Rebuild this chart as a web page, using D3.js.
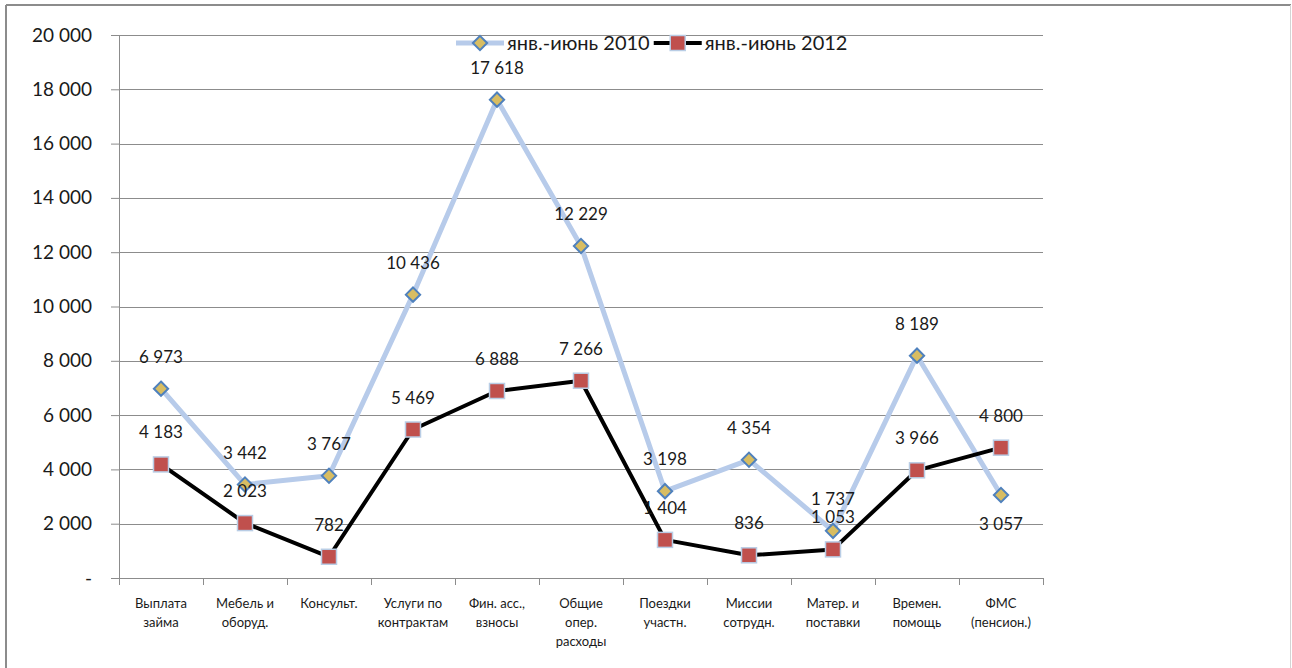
<!DOCTYPE html>
<html>
<head>
<meta charset="utf-8">
<script src="https://cdn.jsdelivr.net/npm/d3@7"></script>
<style>
  body { margin: 0; background: #fff; }
  svg { display: block; font-family: Lato, "Open Sans", sans-serif; }
</style>
</head>
<body>
<div id="chart"></div>
<script>
// Data
var categories = [
  ["Выплата", "займа"],
  ["Мебель и", "оборуд."],
  ["Консульт."],
  ["Услуги по", "контрактам"],
  ["Фин. асс.,", "взносы"],
  ["Общие", "опер.", "расходы"],
  ["Поездки", "участн."],
  ["Миссии", "сотрудн."],
  ["Матер. и", "поставки"],
  ["Времен.", "помощь"],
  ["ФМС", "(пенсион.)"]
];
var values2010 = [6973, 3442, 3767, 10436, 17618, 12229, 3198, 4354, 1737, 8189, 3057];
var values2012 = [4183, 2023, 782, 5469, 6888, 7266, 1404, 836, 1053, 3966, 4800];
var seriesNames = ["янв.-июнь 2010", "янв.-июнь 2012"];
var yTicks = [0, 2000, 4000, 6000, 8000, 10000, 12000, 14000, 16000, 18000, 20000];

// Chart size
var width = 1292;
var height = 668;
var margin = { top: 35, right: 249, bottom: 90, left: 119 };
var innerWidth = width - margin.left - margin.right;
var innerHeight = height - margin.top - margin.bottom;

var svg = d3.select("#chart")
  .append("svg")
  .attr("width", width)
  .attr("height", height);

// Outer frame
svg.append("line").attr("x1", 6).attr("x2", 6).attr("y1", 5).attr("y2", height)
  .attr("stroke", "#8c8c8c").attr("stroke-width", 2);
svg.append("line").attr("x1", 6).attr("x2", 1291).attr("y1", 5).attr("y2", 5)
  .attr("stroke", "#8c8c8c").attr("stroke-width", 2);
svg.append("line").attr("x1", 1290.5).attr("x2", 1290.5).attr("y1", 5).attr("y2", height)
  .attr("stroke", "#d4d4d4").attr("stroke-width", 1);

var g = svg.append("g")
  .attr("transform", "translate(" + margin.left + "," + margin.top + ")");

// Scales
var xScale = d3.scaleBand()
  .domain(d3.range(categories.length))
  .range([0, innerWidth])
  .padding(0);

var yScale = d3.scaleLinear()
  .domain([0, 20000])
  .range([innerHeight, 0]);

function cx(i) { return xScale(i) + xScale.bandwidth() / 2; }

var fmt = function (v) {
  if (v === 0) return "-";
  return d3.format(",")(v).replace(/,/g, "\u00a0");
};

// Gridlines
g.append("g")
  .selectAll("line")
  .data(yTicks.filter(function (d) { return d > 0; }))
  .enter().append("line")
  .attr("x1", 0).attr("x2", innerWidth)
  .attr("y1", function (d) { return Math.round(yScale(d)) + 0.5; })
  .attr("y2", function (d) { return Math.round(yScale(d)) + 0.5; })
  .attr("stroke", "#8c8c8c");

// Y axis
var yAxis = g.append("g")
  .call(d3.axisLeft(yScale).tickValues(yTicks).tickSize(8).tickPadding(19).tickFormat(fmt));
yAxis.select(".domain").attr("stroke", "#8c8c8c");
yAxis.selectAll(".tick line").attr("stroke", "#8c8c8c");
yAxis.selectAll("text").attr("font-size", 19).attr("fill", "#1a1a1a")
  .attr("font-family", "Lato, sans-serif");

// X axis
var xAxisG = g.append("g").attr("transform", "translate(0," + innerHeight + ")");
xAxisG.append("line").attr("x1", 0).attr("x2", innerWidth).attr("y1", 0.5).attr("y2", 0.5)
  .attr("stroke", "#8c8c8c");
xAxisG.selectAll(".xtick")
  .data(d3.range(categories.length + 1))
  .enter().append("line")
  .attr("x1", function (i) { return Math.round(i * xScale.step()) + 0.5; })
  .attr("x2", function (i) { return Math.round(i * xScale.step()) + 0.5; })
  .attr("y1", 0).attr("y2", 7)
  .attr("stroke", "#8c8c8c");

var catLabels = xAxisG.selectAll(".cat")
  .data(categories)
  .enter().append("text")
  .attr("text-anchor", "middle")
  .attr("font-size", 13)
  .attr("fill", "#1a1a1a")
  .attr("x", function (d, i) { return cx(i); })
  .attr("y", 30);
catLabels.selectAll("tspan")
  .data(function (d) { return d; })
  .enter().append("tspan")
  .attr("x", function () { return d3.select(this.parentNode).attr("x"); })
  .attr("dy", function (d, i) { return i === 0 ? 0 : 19; })
  .text(function (d) { return d; });

// Lines
var line = d3.line()
  .x(function (d, i) { return cx(i); })
  .y(function (d) { return yScale(d); });

g.append("path").datum(values2010)
  .attr("fill", "none").attr("stroke", "#b7cbea").attr("stroke-width", 5)
  .attr("stroke-linejoin", "round")
  .attr("d", line);

g.append("path").datum(values2012)
  .attr("fill", "none").attr("stroke", "#000").attr("stroke-width", 4)
  .attr("stroke-linejoin", "round")
  .attr("d", line);

// Markers
var diamond = d3.symbol().type(d3.symbolDiamond2).size(130);
function drawDiamond(sel) {
  sel.attr("d", diamond).attr("fill", "#d8bd62").attr("stroke", "#4f81bd").attr("stroke-width", 2);
}
function drawSquare(sel) {
  sel.attr("width", 15).attr("height", 15)
    .attr("fill", "#c0504d").attr("stroke", "#b9cde5").attr("stroke-width", 1.5);
}

g.selectAll(".m2010")
  .data(values2010)
  .enter().append("path")
  .attr("transform", function (d, i) { return "translate(" + cx(i) + "," + yScale(d) + ")"; })
  .call(drawDiamond);

g.selectAll(".m2012")
  .data(values2012)
  .enter().append("rect")
  .attr("x", function (d, i) { return cx(i) - 7.5; })
  .attr("y", function (d) { return yScale(d) - 7.5; })
  .call(drawSquare);

// Data labels
var belowLabels2010 = [10];
function addLabels(values, below) {
  g.append("g").selectAll("text")
    .data(values)
    .enter().append("text")
    .attr("text-anchor", "middle")
    .attr("font-size", 17)
    .attr("fill", "#1a1a1a")
    .attr("x", function (d, i) { return cx(i); })
    .attr("y", function (d, i) {
      return below.indexOf(i) >= 0 ? yScale(d) + 35 : yScale(d) - 26;
    })
    .text(fmt);
}
addLabels(values2010, belowLabels2010);
addLabels(values2012, []);

// Legend
var legend = svg.append("g").attr("transform", "translate(456,43)");
var lx = 0;
seriesNames.forEach(function (name, k) {
  var item = legend.append("g").attr("transform", "translate(" + lx + ",0)");
  item.append("line").attr("x1", 0).attr("x2", 48).attr("y1", 0).attr("y2", 0)
    .attr("stroke", k === 0 ? "#b7cbea" : "#000").attr("stroke-width", k === 0 ? 5 : 4);
  if (k === 0) {
    item.append("path").attr("transform", "translate(24,0)").call(drawDiamond);
  } else {
    item.append("rect").attr("x", 16.5).attr("y", -7.5).call(drawSquare);
  }
  var t = item.append("text").attr("x", 51).attr("y", 7)
    .attr("font-size", 20).attr("fill", "#1a1a1a").text(name);
  lx += 51 + t.node().getComputedTextLength() + 4;
});
</script>
</body>
</html>
